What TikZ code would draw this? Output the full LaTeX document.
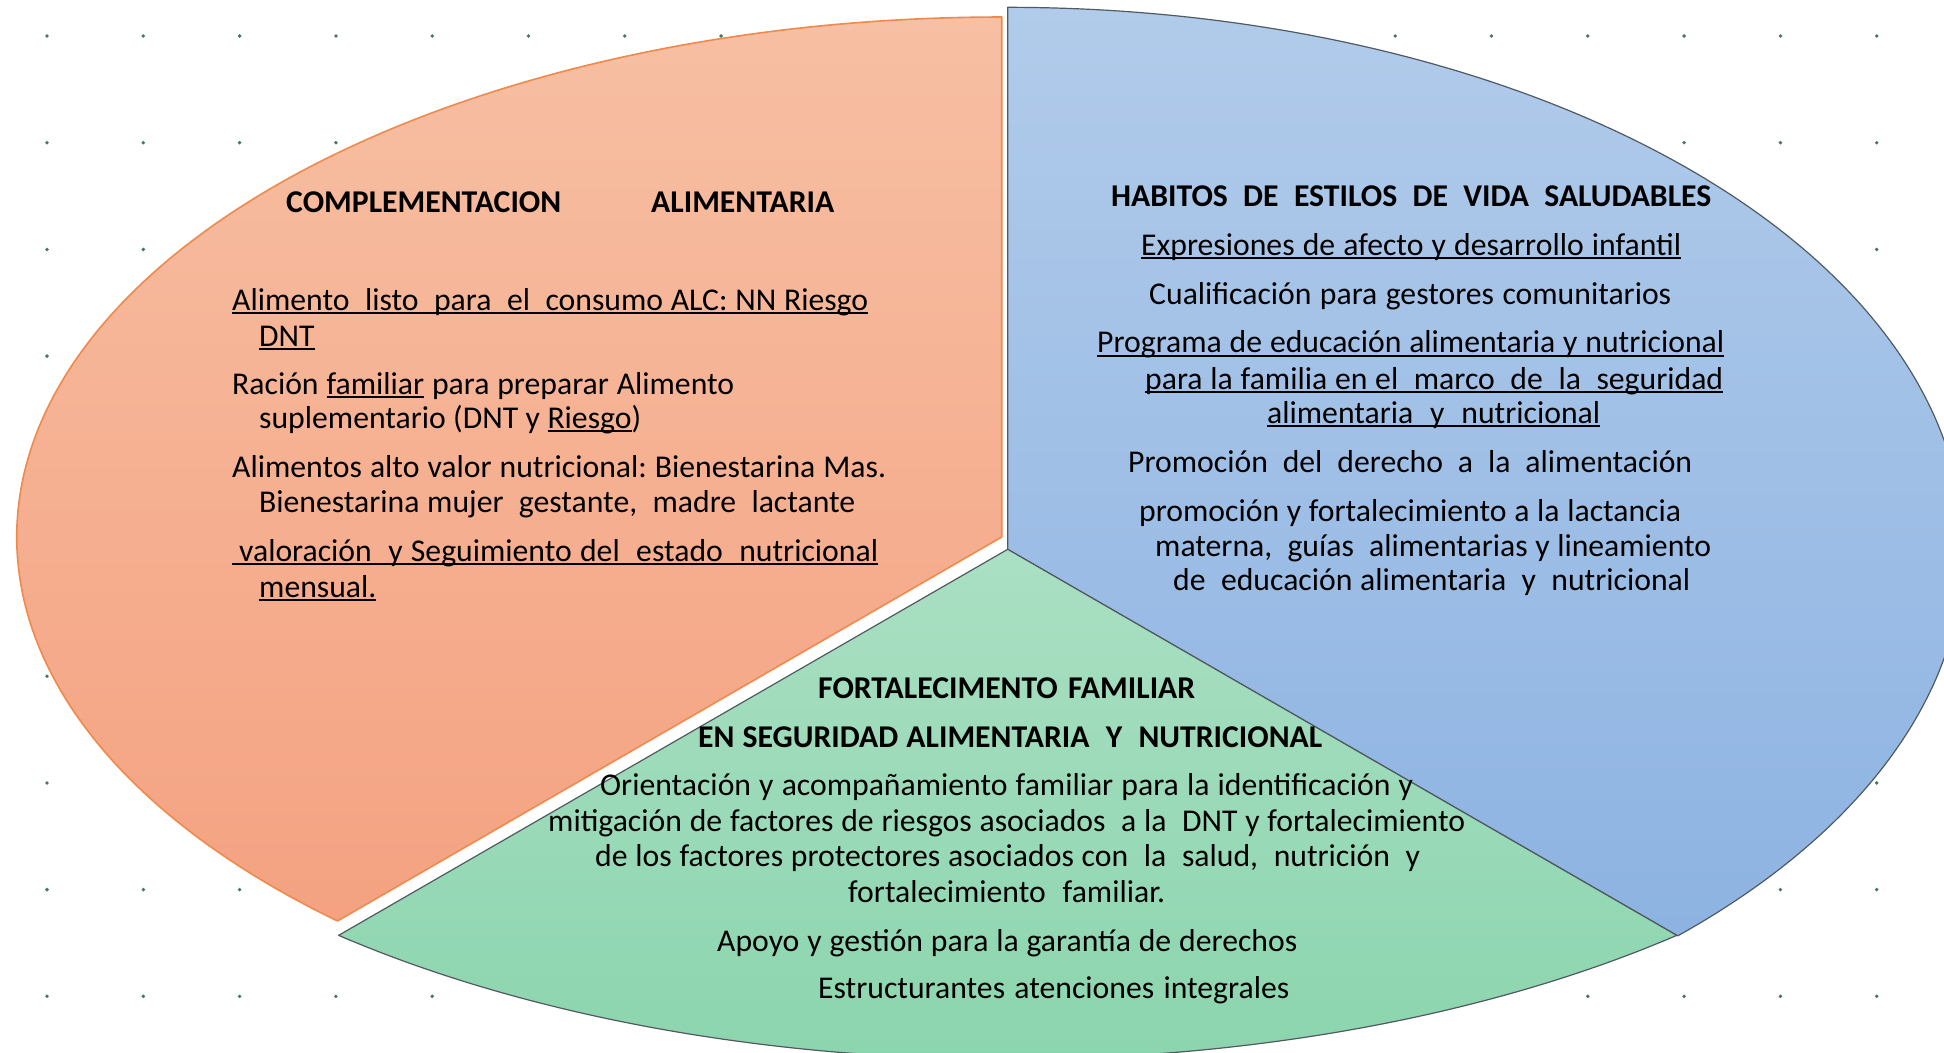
\documentclass[tikz,border=0pt]{standalone}
\usepackage{fontspec}
\setmainfont{Carlito}
\frenchspacing
\newcommand\bodyfont{\fontsize{31.7bp}{36bp}\selectfont\frenchspacing}
\newcommand\fitw[2]{\makebox[#1bp][s]{#2}}
\newcommand\myul[1]{\setbox0=\hbox{#1}\rlap{\rule[-4.3bp]{\wd0}{2.3bp}}\box0\relax}
\definecolor{dotc}{RGB}{70,120,95}
\definecolor{orTop}{HTML}{F7BFA3}
\definecolor{orBot}{HTML}{F4A281}
\definecolor{orLine}{HTML}{EF8A4C}
\definecolor{blTop}{HTML}{B1CBEA}
\definecolor{blBot}{HTML}{8DB3E2}
\definecolor{grTop}{HTML}{AADFC3}
\definecolor{grBot}{HTML}{8BD5AE}
\definecolor{edgeC}{HTML}{505A60}
\begin{document}
\begin{tikzpicture}[x=1bp,y=-1bp,
  txt/.style={inner sep=0pt, anchor=base west, font=\bodyfont, text=black},
  ttl/.style={txt, font=\bodyfont\bfseries},
  bluesec/.style={draw=edgeC, line width=1.2bp, top color=blTop, bottom color=blBot, line join=round},
  greensec/.style={draw=edgeC, line width=1.2bp, top color=grTop, bottom color=grBot, line join=round},
  orangesec/.style={draw=orLine, line width=1.6bp, top color=orTop, bottom color=orBot, line join=round}]
\useasboundingbox (0,0) rectangle (1944,1052);
\fill[white] (0,0) rectangle (1944,1052);
\clip (0,0) rectangle (1944,1052);
% dot grid
\foreach \i in {0,...,19}{
  \foreach \j in {0,...,9}{
    \fill[dotc] ({47+96.3*\i},{36+106.7*\j}) circle[radius=1.9bp];
  }
}
% blue sector
\path[bluesec] (1007.7,549.3) -- (1007.7,7.3)
  -- plot[domain=-90:45.5, samples=160] ({1007.7+956*cos(\x)},{549.3+542*sin(\x)}) -- cycle;
% green sector
\path[greensec] (1007.7,549.3)
  -- plot[domain=130.8:49.2, samples=120] ({1007.7+1024*cos(\x)},{549.3+510*sin(\x)}) -- cycle;
% orange sector
\path[orangesec] (1001.7,537) -- (1001.7,17)
  -- plot[domain=-90:-227.6, samples=160] ({1001.7+985*cos(\x)},{537+520*sin(\x)}) -- cycle;

% orange texts
\node[ttl] (ot1) at (286,212) {COMPLEMENTACION};
\node[ttl] (ot2) at (651,212) {ALIMENTARIA};
\node[txt] (o1) at (232,310) {\myul{\fitw{636}{Alimento\ \ listo\ \ para\ \ el\ \ consumo ALC: NN Riesgo}}};
\node[txt] (o2) at (259,346) {\myul{DNT}};
\node[txt] (o3) at (232,394) {\fitw{502}{Ración \myul{familiar} para preparar Alimento}};
\node[txt] (o4) at (259,428) {\fitw{382}{suplementario (DNT y \myul{Riesgo})}};
\node[txt] (o5) at (232,477) {\fitw{654}{Alimentos alto valor nutricional: Bienestarina Mas.}};
\node[txt] (o6) at (259,512) {\fitw{596}{Bienestarina mujer\ \ gestante,\ \ madre\ \ lactante}};
\node[txt] (o7) at (232,561) {\myul{\fitw{646}{\hspace*{7bp}valoración\ \ y Seguimiento del\ \ estado\ \ nutricional}}};
\node[txt] (o8) at (259,597) {\myul{mensual.}};

% blue texts
\node[ttl] (b1) at (1111,206.5) {\fitw{600}{HABITOS\ \ DE\ \ ESTILOS\ \ DE\ \ VIDA\ \ SALUDABLES}};
\node[txt] (b2) at (1141,255) {\myul{\fitw{540}{Expresiones de afecto y desarrollo infantil}}};
\node[txt] (b3) at (1149,304) {\fitw{522}{Cualificación para gestores comunitarios}};
\node[txt] (b4) at (1097,352.5) {\myul{\fitw{627}{Programa de educación alimentaria y nutricional}}};
\node[txt] (b5) at (1145,389) {\myul{\fitw{578}{para la familia en el\ \ marco\ \ de\ \ la\ \ seguridad}}};
\node[txt] (b6) at (1267,423) {\myul{\fitw{333}{alimentaria\ \ y\ \ nutricional}}};
\node[txt] (b7) at (1128,472) {\fitw{564}{Promoción\ \ del\ \ derecho\ \ a\ \ la\ \ alimentación}};
\node[txt] (b8) at (1139,521) {\fitw{542}{promoción y fortalecimiento a la lactancia}};
\node[txt] (b9) at (1155,556) {\fitw{556}{materna,\ \ guías\ \ alimentarias y lineamiento}};
\node[txt] (b10) at (1173,590.5) {\fitw{517}{de\ \ educación alimentaria\ \ y\ \ nutricional}};

% green texts
\node[ttl] (g1) at (818,698) {\fitw{377}{FORTALECIMENTO FAMILIAR}};
\node[ttl] (g2) at (698,747) {\fitw{624}{EN SEGURIDAD ALIMENTARIA\ \ Y\ \ NUTRICIONAL}};
\node[txt] (g3) at (600,795) {\fitw{813}{Orientación y acompañamiento familiar para la identificación y}};
\node[txt] (g4) at (548,831) {\fitw{917}{mitigación de factores de riesgos asociados\ \ a la\ \ DNT y fortalecimiento}};
\node[txt] (g5) at (595,866) {\fitw{825}{de los factores protectores asociados con\ \ la\ \ salud,\ \ nutrición\ \ y}};
\node[txt] (g6) at (848,902) {\fitw{317}{fortalecimiento\ \ familiar.}};
\node[txt] (g7) at (717,951) {\fitw{580}{Apoyo y gestión para la garantía de derechos}};
\node[txt] (g8) at (818,998) {\fitw{471}{Estructurantes atenciones integrales}};
\end{tikzpicture}
\end{document}
